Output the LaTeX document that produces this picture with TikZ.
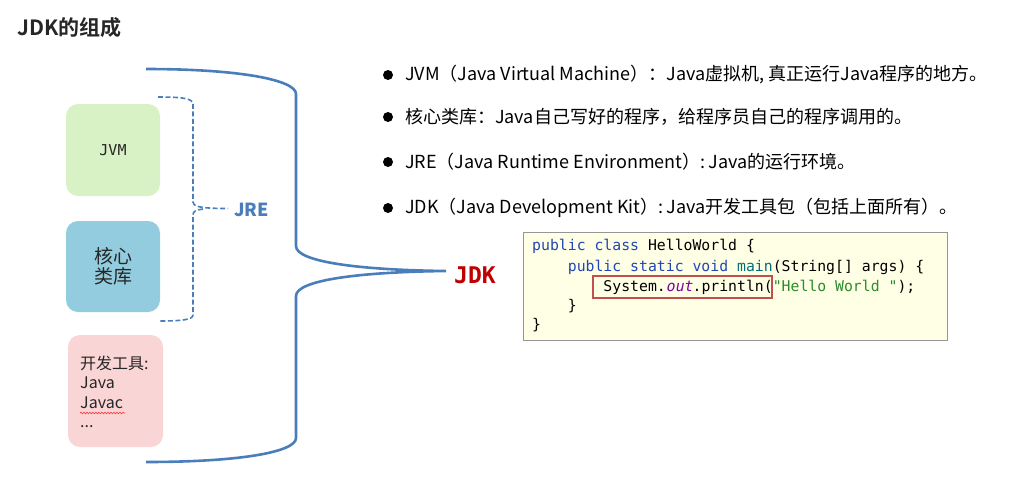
\documentclass[tikz,border=0pt]{standalone}
\usepackage{fontspec}
\setmainfont{Noto Sans CJK SC}
\newfontfamily\cjkb{Noto Sans CJK SC Bold}
\newfontfamily\monof{DejaVu Sans Mono}
\newfontfamily\monob{DejaVu Sans Mono Bold}
\usetikzlibrary{decorations.pathmorphing}
\definecolor{bracec}{RGB}{74,126,187}
\definecolor{jvmc}{RGB}{216,242,198}
\definecolor{libc}{RGB}{146,204,222}
\definecolor{toolc}{RGB}{250,213,213}
\definecolor{codebg}{RGB}{255,255,230}
\definecolor{codeframe}{RGB}{150,150,150}
\definecolor{kw}{RGB}{33,70,181}
\definecolor{fn}{RGB}{0,110,120}
\definecolor{purp}{RGB}{128,0,160}
\definecolor{strc}{RGB}{42,140,42}
\definecolor{redl}{RGB}{192,0,0}
\definecolor{boxred}{RGB}{192,80,77}
\begin{document}
\begin{tikzpicture}[x=1pt,y=-1pt,
  box/.style={rounded corners=12pt, inner sep=0pt},
  brace/.style={draw=bracec, line width=2.6pt},
  jrebrace/.style={draw=bracec, line width=1.6pt, dash pattern=on 5pt off 2.5pt},
  bul/.style={anchor=west, font=\fontsize{18}{21}\selectfont, inner sep=0pt},
  code/.style={anchor=west, font=\monof\fontsize{14.8}{17}\selectfont, inner sep=0pt},
  dot/.style={circle, fill=black, minimum size=10pt, inner sep=0pt}]
\useasboundingbox (0,0) rectangle (1023,483);
% title
\node[anchor=west, inner sep=0pt, font=\cjkb\fontsize{21}{24}\selectfont, text=black!85] (title) at (17,28) {JDK的组成};
% boxes
\node[box, fill=jvmc, minimum width=94pt, minimum height=92pt] (jvm) at (113,150) {};
\node[font=\monof\fontsize{15}{18}\selectfont, text=black!85] (jvmt) at (jvm.center) {JVM};
\node[box, fill=libc, minimum width=94pt, minimum height=91pt] (lib) at (113,266.5) {};
\node[font=\fontsize{19}{21}\selectfont, align=center, text=black!85] (libt) at (lib.center) {核心\\[-1pt]类库};
\node[box, fill=toolc, minimum width=95pt, minimum height=112pt] (tool) at (115.5,391) {};
\node[anchor=north west, inner sep=0pt, font=\fontsize{16}{19.2}\selectfont, align=left, text=black!85] (toolt) at (80,356) {开发工具:\\Java\\Javac\\...};
\coordinate (wa) at (80,413);
\coordinate (wb) at (125,413);
\draw[red!80, line width=0.6pt, decorate, decoration={snake, amplitude=0.8pt, segment length=3pt}] (wa) -- (wb);
% JRE brace
\coordinate (jt) at (158,97);
\coordinate (jb) at (158,321);
\coordinate (jtip) at (228,208.5);
\draw[jrebrace] (jt) .. controls (180,97) and (193,98) .. (193,104) -- (193,202) .. controls (193,206) and (198,208.5) .. (jtip);
\draw[jrebrace] (203,209) .. controls (196,210) and (193,211) .. (193,215) -- (193,315) .. controls (193,320) and (180,321) .. (jb);
\node[anchor=west, inner sep=0pt, font=\fontsize{18}{20}\bfseries\selectfont, text=bracec] (jre) at (234,210) {JRE};
% JDK brace
\coordinate (dt) at (146,69);
\coordinate (db) at (146,462);
\coordinate (dtip) at (446,271);
\draw[brace] (dt) .. controls (240,69) and (296,80) .. (296,94) -- (296,246) .. controls (296,262) and (360,270) .. (dtip)
  .. controls (360,272) and (296,280) .. (296,296) -- (296,438) .. controls (296,452) and (240,462) .. (db);
\node[anchor=west, inner sep=0pt, font=\monob\fontsize{23}{26}\selectfont, text=redl] (jdk) at (454,275) {JDK};
% bullets
\node[dot] (d1) at (388,75) {};
\node[bul] (b1) at (405,75) {JVM（Java Virtual Machine）：Java虚拟机, 真正运行Java程序的地方。};
\node[dot] (d2) at (388,117) {};
\node[bul] (b2) at (405,117) {核心类库：Java自己写好的程序，给程序员自己的程序调用的。};
\node[dot] (d3) at (388,162) {};
\node[bul] (b3) at (405,162) {JRE（Java Runtime Environment）:\,Java的运行环境。};
\node[dot] (d4) at (388,208) {};
\node[bul] (b4) at (405,208) {JDK（Java Development Kit）:\,Java开发工具包（包括上面所有）。};
% code box
\node[draw=codeframe, fill=codebg, line width=0.8pt, minimum width=424pt, minimum height=108pt, inner sep=0pt] (codebox) at (735,286) {};
\node[code] (c1) at (532,246) {\textcolor{kw}{public class} HelloWorld \{};
\node[code] (c2) at (532,267) {\hspace*{4\fontcharwd\font`x}\textcolor{kw}{public static void} \textcolor{fn}{main}(String[] args) \{};
\node[code] (c3) at (532,287) {\hspace*{8\fontcharwd\font`x}System.\textcolor{purp}{\addfontfeature{FakeSlant=0.2}out}.println(\textcolor{strc}{"Hello World "});};
\node[code] (c4) at (532,306) {\hspace*{4\fontcharwd\font`x}\}};
\node[code] (c5) at (532,325) {\}};
\node[draw=boxred, line width=2pt, minimum width=179pt, minimum height=22pt, inner sep=0pt] (hl) at (682.5,287) {};
\end{tikzpicture}
\end{document}
